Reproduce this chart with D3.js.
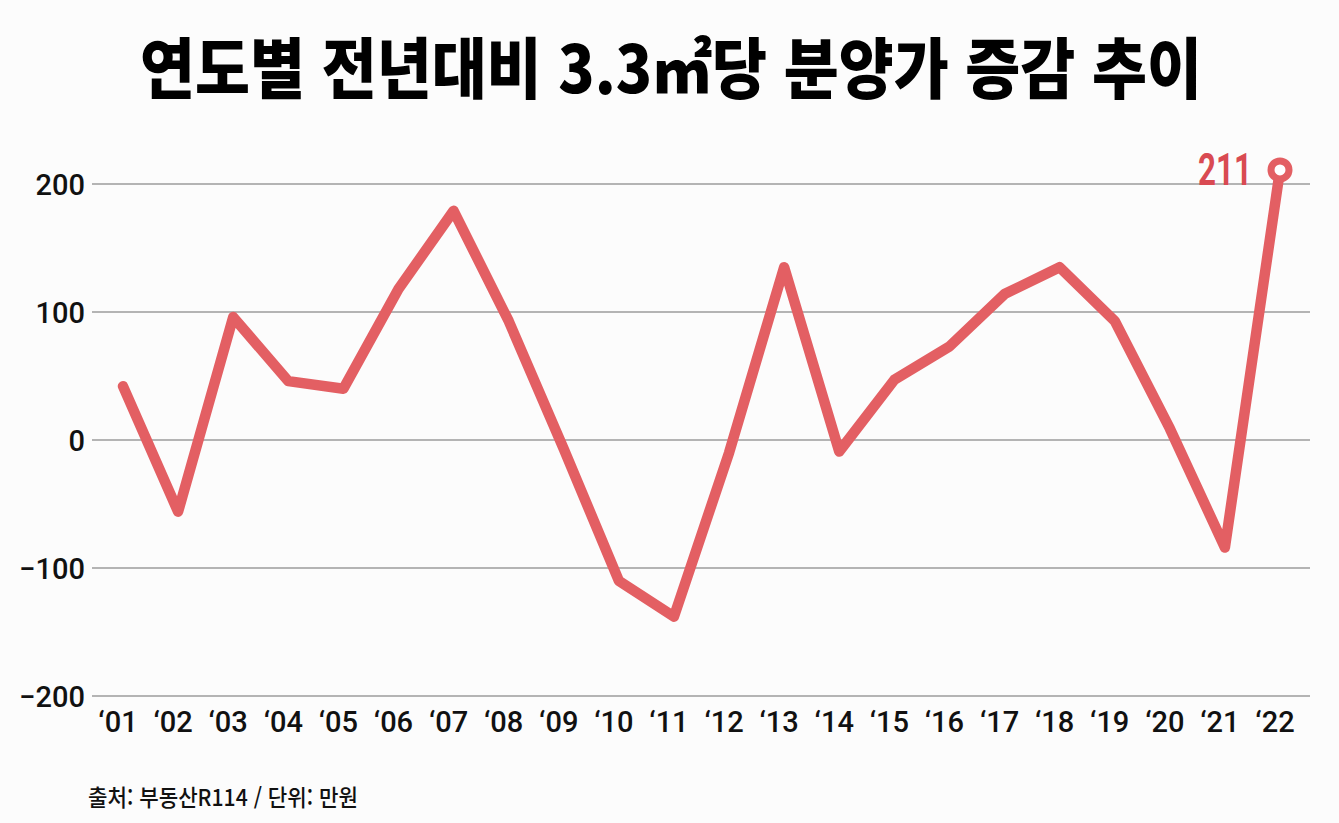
<!DOCTYPE html>
<html lang="ko">
<head>
  <meta charset="UTF-8">
  <title>연도별 전년대비 3.3㎡당 분양가 증감 추이</title>
  <script src="https://d3js.org/d3.v7.min.js"></script>
  <style>
    body { margin: 0; background: #fcfcfc; }
    .grid line { stroke: #9c9c9c; stroke-width: 1.6; }
    .tick-label { font-family: Roboto, "Noto Sans", sans-serif; font-weight: 500; font-size: 29px; fill: #111; }
    .title { font-family: "Noto Sans CJK KR", sans-serif; font-weight: 900; font-size: 66px; fill: #000; }
    .source { font-family: "Noto Sans CJK KR", sans-serif; font-weight: 500; font-size: 23px; fill: #111; }
    .end-label { font-family: Roboto, sans-serif; font-weight: 700; font-size: 44px; fill: #d94a52; }
  </style>
</head>
<body>
  <div id="chart"></div>
  <script>
    // data (unit: 만원)
    const years = ["01", "02", "03", "04", "05", "06", "07", "08", "09", "10", "11",
                   "12", "13", "14", "15", "16", "17", "18", "19", "20", "21", "22"];
    const changes = [42, -56, 96, 46, 40, 118, 179, 93, -7, -110, -138,
                     -10, 135, -9, 47, 73, 114, 135, 93, 9, -84, 211];
    const yTicks = [-200, -100, 0, 100, 200];

    const W = 1339, H = 823;

    const svg = d3.select("#chart")
                  .append("svg")
                  .attr("width", W)
                  .attr("height", H)
                  .style("display", "block");

    svg.append("rect")
       .attr("width", W)
       .attr("height", H)
       .attr("fill", "#fcfcfc");

    // title
    svg.append("text")
       .attr("class", "title")
       .attr("x", 140)
       .attr("y", 93)
       .attr("textLength", 1062)
       .attr("lengthAdjust", "spacingAndGlyphs")
       .text("연도별 전년대비 3.3㎡당 분양가 증감 추이");

    // scales
    const x = d3.scalePoint()
                .domain(years)
                .range([123, 1280]);

    const y = d3.scaleLinear()
                .domain([-200, 200])
                .range([696, 184]);

    // horizontal grid lines
    svg.append("g")
       .attr("class", "grid")
       .selectAll("line")
       .data(yTicks)
       .enter()
       .append("line")
       .attr("x1", 92)
       .attr("x2", 1310)
       .attr("y1", d => y(d))
       .attr("y2", d => y(d));

    // y-axis labels
    svg.append("g")
       .selectAll("text")
       .data(yTicks)
       .enter()
       .append("text")
       .attr("class", "tick-label")
       .attr("x", 85)
       .attr("y", d => y(d) + 11)
       .attr("text-anchor", "end")
       .text(d => d3.format("")(d));

    // x-axis labels
    svg.append("g")
       .selectAll("text")
       .data(years)
       .enter()
       .append("text")
       .attr("class", "tick-label")
       .attr("x", d => x(d) - 5)
       .attr("y", 732)
       .attr("text-anchor", "middle")
       .text(d => "\u2018" + d);

    // line
    const points = years.map((yr, i) => ({ year: yr, value: changes[i] }));

    const line = d3.line()
                   .x(d => x(d.year))
                   .y(d => y(d.value));

    svg.append("path")
       .datum(points)
       .attr("d", line)
       .attr("fill", "none")
       .attr("stroke", "#e35f63")
       .attr("stroke-width", 10.5)
       .attr("stroke-linejoin", "round")
       .attr("stroke-linecap", "round");

    // end marker + label
    const last = points[points.length - 1];

    svg.append("circle")
       .attr("cx", x(last.year))
       .attr("cy", y(last.value))
       .attr("r", 9)
       .attr("fill", "#fff")
       .attr("stroke", "#e35f63")
       .attr("stroke-width", 7);

    svg.append("text")
       .attr("class", "end-label")
       .attr("x", x(last.year) - 28)
       .attr("y", y(last.value) + 15)
       .attr("text-anchor", "end")
       .attr("textLength", 54)
       .attr("lengthAdjust", "spacingAndGlyphs")
       .text(last.value);

    // source note
    svg.append("text")
       .attr("class", "source")
       .attr("x", 88)
       .attr("y", 806)
       .attr("textLength", 270)
       .attr("lengthAdjust", "spacingAndGlyphs")
       .text("출처: 부동산R114 / 단위: 만원");
  </script>
</body>
</html>
